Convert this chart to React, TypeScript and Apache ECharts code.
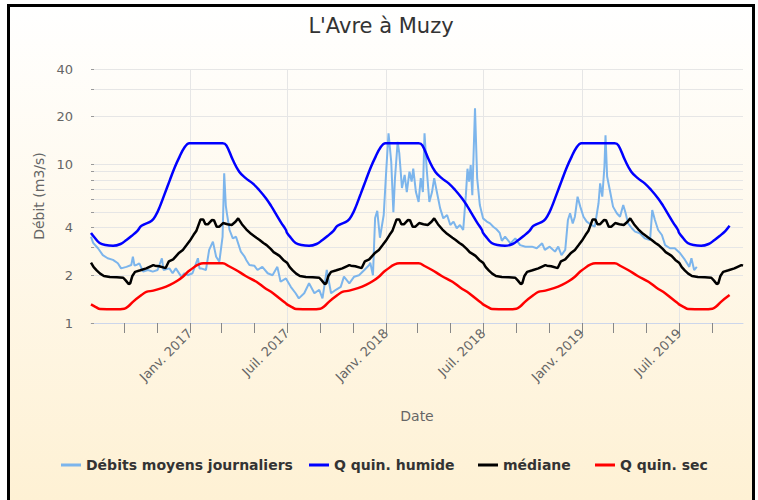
import React, { useEffect, useRef } from 'react';
import * as echarts from 'echarts';

const titleText = "L'Avre à Muzy";
const yAxisName = 'Débit (m3/s)';
const xAxisName = 'Date';
const seriesNames = ['Débits moyens journaliers', 'Q quin. humide', 'médiane', 'Q quin. sec'];
const seriesColors = ['#7cb5ec', '#0000ff', '#000000', '#ff0000'];

const yTickValues = [1, 2, 3, 4, 5, 6, 7, 8, 9, 10, 20, 30, 40];
const yLabelValues = [1, 2, 4, 10, 20, 40];

const xStart = '2016-07-01';
const xEnd = '2019-10-28';
const xTickDates = [
  '2016-09-01', '2016-11-01', '2017-01-01', '2017-03-01', '2017-05-01', '2017-07-01',
  '2017-09-01', '2017-11-01', '2018-01-01', '2018-03-01', '2018-05-01', '2018-07-01',
  '2018-09-01', '2018-11-01', '2019-01-01', '2019-03-01', '2019-05-01', '2019-07-01',
  '2019-09-01',
];
const xLabelDates = ['2017-01-01', '2017-07-01', '2018-01-01', '2018-07-01', '2019-01-01', '2019-07-01'];
const labelMonths = [0, 6];
const labelMonthNames = ['Janv.', 'Juil.'];

// Seasonal statistics (day of year -> value), identical every year
const seasonYears = [2016, 2017, 2018, 2019];

const humideDays = ['01-01', '03-03', '03-10', '03-22', '04-03', '04-15', '04-28', '05-10', '05-23', '06-01', '06-10', '06-20', '06-29', '07-01', '07-08', '07-17', '07-28', '08-11', '08-25', '09-05', '09-15', '09-25', '10-03', '10-22', '10-30', '11-06', '11-15', '11-25', '12-04', '12-13', '12-22', '12-31'];
const humideValues = [13.6, 13.6, 13.2, 10.7, 9.0, 8.2, 7.6, 6.9, 6.1, 5.5, 4.9, 4.3, 3.86, 3.7, 3.45, 3.2, 3.1, 3.07, 3.15, 3.34, 3.55, 3.8, 4.1, 4.42, 4.8, 5.4, 6.5, 8.0, 9.6, 11.2, 12.8, 13.6];
const humideEnd = '2019-10-03';

const secDays = ['01-01', '01-26', '03-03', '03-15', '03-28', '04-15', '05-05', '05-20', '06-05', '06-18', '06-29', '07-01', '07-10', '07-18', '08-15', '09-01', '09-08', '09-17', '10-03', '10-12', '10-25', '11-10', '11-25', '12-08', '12-19'];
const secValues = [2.15, 2.38, 2.38, 2.28, 2.16, 1.98, 1.82, 1.67, 1.54, 1.42, 1.33, 1.31, 1.26, 1.225, 1.22, 1.23, 1.27, 1.36, 1.5, 1.57, 1.6, 1.66, 1.74, 1.84, 1.96];
const secEnd = '2019-10-03';

const medianDays = ['01-01', '01-08', '01-13', '01-21', '01-26', '01-30', '02-04', '02-11', '02-15', '02-20', '02-25', '03-04', '03-12', '03-20', '03-27', '04-01', '04-08', '04-16', '04-25', '05-05', '05-11', '05-18', '05-24', '06-01', '06-06', '06-12', '06-17', '06-24', '07-01', '07-06', '07-12', '07-18', '07-25', '08-05', '08-18', '08-30', '09-04', '09-09', '09-12', '09-16', '09-21', '10-01', '10-12', '10-25', '10-28', '11-05', '11-17', '11-23', '12-01', '12-11', '12-19', '12-26'];
const medianValues = [3.3, 3.6, 3.8, 4.5, 4.5, 4.2, 4.2, 4.46, 4.45, 4.05, 4.05, 4.27, 4.2, 4.15, 4.35, 4.57, 4.2, 3.9, 3.65, 3.45, 3.34, 3.2, 3.1, 2.92, 2.8, 2.72, 2.65, 2.5, 2.4, 2.25, 2.14, 2.05, 1.98, 1.95, 1.94, 1.93, 1.85, 1.76, 1.78, 1.98, 2.1, 2.15, 2.21, 2.32, 2.3, 2.28, 2.22, 2.45, 2.52, 2.75, 2.89, 3.1];
const medianEnd = '2019-10-28';

// Daily mean flows
const dailyDates = [
  '2016-07-01', '2016-07-05', '2016-07-14', '2016-07-23', '2016-08-01', '2016-08-11', '2016-08-20', '2016-08-26',
  '2016-09-05', '2016-09-14', '2016-09-17', '2016-09-20', '2016-09-23', '2016-09-29', '2016-10-06', '2016-10-15',
  '2016-10-24', '2016-11-02', '2016-11-10', '2016-11-13', '2016-11-24', '2016-11-30', '2016-12-06', '2016-12-16',
  '2016-12-22', '2016-12-28',
  '2017-01-06', '2017-01-16', '2017-01-19', '2017-01-22', '2017-01-31', '2017-02-06', '2017-02-13', '2017-02-19',
  '2017-02-25', '2017-03-03', '2017-03-06', '2017-03-09', '2017-03-11', '2017-03-16', '2017-03-22', '2017-03-28',
  '2017-04-06', '2017-04-13', '2017-04-16', '2017-04-22', '2017-05-01', '2017-05-07', '2017-05-16', '2017-05-26',
  '2017-06-04', '2017-06-13', '2017-06-19', '2017-06-29', '2017-07-08', '2017-07-17', '2017-07-23', '2017-08-02',
  '2017-08-11', '2017-08-21', '2017-08-30', '2017-09-05', '2017-09-13', '2017-09-21', '2017-09-30', '2017-10-09',
  '2017-10-15', '2017-10-25', '2017-11-03', '2017-11-12', '2017-11-22', '2017-12-01', '2017-12-03', '2017-12-08',
  '2017-12-12', '2017-12-16', '2017-12-21', '2017-12-28',
  '2018-01-02', '2018-01-06', '2018-01-11', '2018-01-15', '2018-01-18', '2018-01-23', '2018-01-26', '2018-01-31',
  '2018-02-05', '2018-02-09', '2018-02-14', '2018-02-18', '2018-02-21', '2018-02-26', '2018-03-03', '2018-03-07',
  '2018-03-11', '2018-03-14', '2018-03-18', '2018-03-23', '2018-03-28', '2018-04-01', '2018-04-06', '2018-04-12',
  '2018-04-18', '2018-04-25', '2018-05-01', '2018-05-07', '2018-05-13', '2018-05-19', '2018-05-25', '2018-05-30',
  '2018-06-02', '2018-06-05', '2018-06-08', '2018-06-11', '2018-06-16', '2018-06-20', '2018-06-25', '2018-07-01',
  '2018-07-08', '2018-07-14', '2018-07-20', '2018-07-26', '2018-08-01', '2018-08-05', '2018-08-11', '2018-08-21',
  '2018-08-30', '2018-09-08', '2018-09-18', '2018-09-30', '2018-10-09', '2018-10-19', '2018-10-24', '2018-11-02',
  '2018-11-12', '2018-11-18', '2018-11-24', '2018-12-01', '2018-12-06', '2018-12-10', '2018-12-15', '2018-12-19',
  '2018-12-24', '2018-12-29',
  '2019-01-04', '2019-01-10', '2019-01-19', '2019-01-25', '2019-02-01', '2019-02-04', '2019-02-08', '2019-02-12',
  '2019-02-14', '2019-02-17', '2019-02-22', '2019-02-28', '2019-03-07', '2019-03-13', '2019-03-19', '2019-03-23',
  '2019-03-28', '2019-04-04', '2019-04-10', '2019-04-19', '2019-04-28', '2019-05-08', '2019-05-12', '2019-05-17',
  '2019-05-23', '2019-05-30', '2019-06-05', '2019-06-14', '2019-06-23', '2019-07-03', '2019-07-12', '2019-07-20',
  '2019-07-24', '2019-07-29', '2019-08-03',
];
const dailyValues = [
  3.5, 3.2, 2.96, 2.68, 2.56, 2.5, 2.38, 2.21,
  2.26, 2.32, 2.62, 2.3, 2.32, 2.38, 2.11, 2.16,
  2.11, 2.16, 2.56, 2.16, 2.21, 2.06, 2.21, 1.96,
  2.06, 2.0,
  2.06, 2.56, 2.21, 2.21, 2.16, 2.89, 3.26, 2.62,
  2.44, 3.5, 8.8, 5.5, 4.92, 3.86, 3.42, 3.5,
  2.82, 2.62, 2.5, 2.32, 2.3, 2.16, 2.26, 2.06,
  2.0, 2.26, 1.82, 1.91, 1.69, 1.54, 1.43, 1.54,
  1.78, 1.54, 1.62, 1.43, 2.16, 1.54, 1.62, 1.69,
  1.96, 1.78, 1.96, 2.0, 2.16, 2.32, 2.4, 2.0,
  4.6, 5.1, 3.45, 4.8,
  9.5, 15.7, 10.4, 5.0, 8.2, 13.9, 11.8, 7.1,
  8.6, 6.7, 9.0, 7.8, 9.4, 6.7, 5.8, 8.2,
  6.7, 15.7, 9.4, 5.8, 6.7, 8.2, 6.7, 5.3,
  4.57, 4.8, 4.15, 4.36, 3.96, 4.15, 3.86, 6.4,
  9.4, 7.8, 9.9, 6.4, 22.6, 8.2, 5.55, 4.57,
  4.36, 4.25, 4.05, 3.9, 3.7, 3.3, 3.5, 3.18,
  3.42, 3.1, 3.03, 3.03, 2.96, 3.18, 2.89, 3.03,
  2.82, 3.03, 2.68, 2.89, 4.46, 4.92, 4.25, 4.68,
  6.26, 5.42,
  4.68, 4.36, 4.15, 4.05, 5.69, 7.6, 6.26, 9.7,
  15.3, 8.4, 6.9, 5.42, 4.92, 4.68, 5.55, 5.0,
  4.25, 3.96, 3.77, 3.68, 3.42, 3.34, 5.16, 4.46,
  3.86, 3.59, 3.1, 2.96, 2.96, 2.75, 2.5, 2.26,
  2.56, 2.16, 2.26,
];

const legendLefts = [46, 294, 463, 580];

function ts(s: string): number {
  return new Date(s + 'T00:00:00').getTime();
}

function buildSeasonal(days: string[], values: number[], end: string): [number, number][] {
  const t0 = ts(xStart);
  const t1 = ts(end);
  const out: [number, number][] = [];
  seasonYears.forEach((y) => {
    days.forEach((d, i) => {
      const t = ts(`${y}-${d}`);
      if (t >= t0 && t <= t1) out.push([t, values[i]]);
    });
  });
  out.sort((a, b) => a[0] - b[0]);
  return out;
}

const dailyData: [number, number][] = dailyDates.map((d, i) => [ts(d), dailyValues[i]]);
const humideData = buildSeasonal(humideDays, humideValues, humideEnd);
const medianData = buildSeasonal(medianDays, medianValues, medianEnd);
const secData = buildSeasonal(secDays, secValues, secEnd);

const FONT = 'DejaVu Sans';

function xLabelFormatter(value: number): string {
  const d = new Date(value);
  const idx = labelMonths.indexOf(d.getMonth());
  return idx >= 0 ? `${labelMonthNames[idx]} ${d.getFullYear()}` : '';
}

export default function App() {
  const ref = useRef<HTMLDivElement>(null);
  useEffect(() => {
    if (!ref.current) return;
    const chart = echarts.init(ref.current, null, { renderer: 'svg' });
    const seriesData = [dailyData, humideData, medianData, secData];
    const option: any = {
      animation: false,
      textStyle: { fontFamily: FONT },
      title: {
        text: titleText,
        left: 'center',
        top: 3,
        textStyle: { fontSize: 21, fontWeight: 'normal', color: '#333', fontFamily: FONT },
      },
      legend: seriesNames.map((n, i) => ({
        data: [n],
        left: legendLefts[i],
        top: 446,
        icon: 'rect',
        itemWidth: 20,
        itemHeight: 3,
        selectedMode: false,
        textStyle: { fontSize: 14, fontWeight: 'bold', color: '#333', fontFamily: FONT },
      })),
      grid: { left: 81, right: 9, top: 62, bottom: 177 },
      xAxis: [
        {
          type: 'value',
          min: ts(xStart),
          max: ts(xEnd),
          name: xAxisName,
          nameLocation: 'middle',
          nameGap: 86,
          nameTextStyle: { fontSize: 14, color: '#666', fontFamily: FONT },
          axisLine: { show: true, lineStyle: { color: '#ccd6eb', width: 1 } },
          axisTick: {
            show: true,
            length: 10,
            lineStyle: { color: '#888' },
            customValues: xTickDates.map(ts),
          },
          axisLabel: {
            customValues: xLabelDates.map(ts),
            rotate: 45,
            fontSize: 13,
            color: '#666',
            margin: 8,
            fontFamily: FONT,
            formatter: xLabelFormatter,
          },
          splitLine: { show: false },
        },
        {
          type: 'value',
          min: ts(xStart),
          max: ts(xEnd),
          position: 'bottom',
          axisLine: { show: false },
          axisTick: { show: false, customValues: xLabelDates.map(ts) },
          axisLabel: { show: false },
          splitLine: { show: true, lineStyle: { color: '#e6e6e6', width: 1 } },
        },
      ],
      yAxis: {
        type: 'log',
        logBase: 10,
        min: 1,
        max: 40,
        name: yAxisName,
        nameLocation: 'middle',
        nameGap: 44,
        nameTextStyle: { fontSize: 14, color: '#666', fontFamily: FONT },
        axisLine: { show: false },
        axisTick: {
          show: true,
          inside: true,
          length: 3,
          lineStyle: { color: '#999' },
          customValues: yTickValues,
        },
        axisLabel: {
          customValues: yLabelValues,
          fontSize: 13,
          color: '#666',
          margin: 18,
          fontFamily: FONT,
          formatter: (v: number) => String(Math.round(v)),
        },
        splitLine: { show: true, lineStyle: { color: '#e6e6e6', width: 1 } },
      },
      series: seriesNames.map((n, i) => ({
        name: n,
        type: 'line',
        data: seriesData[i],
        showSymbol: false,
        symbol: 'none',
        smooth: i === 1 || i === 3 ? 0.4 : false,
        color: seriesColors[i],
        lineStyle: { color: seriesColors[i], width: i === 0 ? 2 : 2.5 },
        z: i + 2,
      })),
    };
    chart.setOption(option);
    return () => chart.dispose();
  }, []);
  return (
    <div
      style={{
        position: 'absolute',
        left: 7,
        top: 4,
        width: 748,
        height: 496,
        boxSizing: 'border-box',
        borderTop: '3px solid #000',
        borderLeft: '3px solid #000',
        borderRight: '3px solid #000',
        background: 'linear-gradient(#ffffff, #fef1d4)',
      }}
    >
      <div ref={ref} style={{ width: 742, height: 493 }} />
    </div>
  );
}
